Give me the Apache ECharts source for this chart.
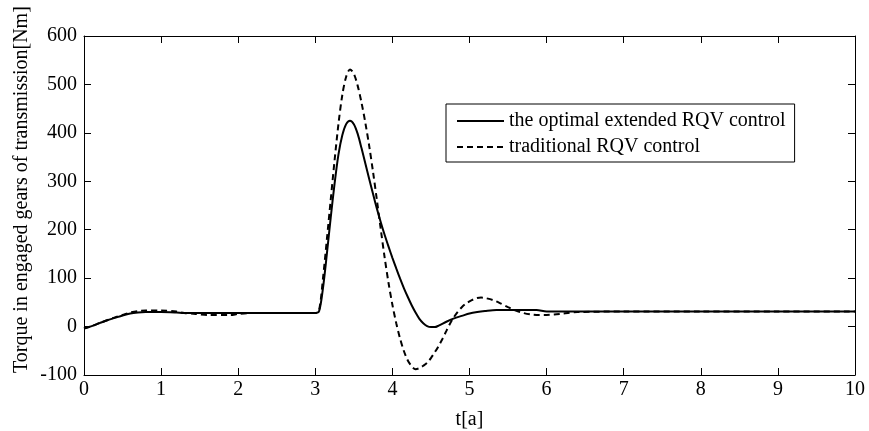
<!DOCTYPE html>
<html>
<head>
<meta charset="utf-8">
<script src="https://cdn.jsdelivr.net/npm/echarts@6/dist/echarts.min.js"></script>
<style>html,body{margin:0;padding:0;background:#fff}#c{width:869px;height:431px}</style>
</head>
<body>
<div id="c"></div>
<script>
var xTicks = [0,1,2,3,4,5,6,7,8,9,10];
var yTicks = [-100,0,100,200,300,400,500,600];
var seriesNames = ['the optimal extended RQV control', 'traditional RQV control'];
var optimalT = [0,0.1,0.2,0.3,0.4,0.5,0.6,0.7,0.8,1.0,1.2,1.3,1.5,2.0,2.5,3.0,
  3.05,3.1,3.15,3.2,3.25,3.3,3.35,3.4,3.45,3.5,3.55,3.6,3.65,3.7,3.75,3.8,3.85,3.9,3.95,
  4.0,4.05,4.1,4.15,4.2,4.25,4.3,4.35,4.4,4.45,4.5,4.55,4.6,4.7,4.8,4.9,5.0,5.1,5.2,5.35,5.6,5.87,6.0,6.5,7,8,9,10];
var optimalV = [-4,1,7,13,18,23,27,29,30,30,29,28,28,28,28,28,
  32,80,150,225,295,355,395,418,425,418,398,368,336,304,273,243,215,189,165,
  142,120,99,79,61,44,29,16,7,1,-1,-1,2,10,17,22,27,30,32,34,34,34,31,31,31,31,31,31];
var tradT = [0,0.1,0.2,0.3,0.4,0.5,0.6,0.7,0.8,1.0,1.2,1.3,1.45,1.6,1.9,2.0,2.2,2.6,3.0,
  3.05,3.1,3.15,3.2,3.25,3.3,3.35,3.4,3.45,3.5,3.55,3.6,3.65,3.7,3.75,3.8,3.85,3.9,3.95,
  4.0,4.05,4.1,4.15,4.2,4.25,4.3,4.35,4.4,4.45,4.5,4.55,4.6,4.65,4.7,4.75,4.8,4.85,4.9,4.95,
  5.0,5.05,5.1,5.15,5.2,5.3,5.4,5.5,5.6,5.7,5.8,5.9,6.0,6.1,6.22,6.4,7,8,9,10];
var tradV = [-4,1,7,13,19,24,29,32,33,33,31,28,26,24,24,26,28,28,28,
  35,100,180,262,343,418,478,516,531,522,497,462,420,372,318,260,200,142,90,
  45,7,-25,-51,-70,-82,-88,-86,-81,-75,-65,-53,-40,-25,-9,7,20,31,40,47,
  52,56,59,60,59,55,48,40,33,28,25,24,24,25,27,30,31,31,31,31];

function pairs(t, v) { return t.map(function (x, i) { return [x, v[i]]; }); }

var FONT = '"Liberation Serif", "Times New Roman", serif';
var chart = echarts.init(document.getElementById('c'), null, {renderer: 'canvas'});
function axisCommon() {
  return {
    axisLine: {show: true, onZero: false, lineStyle: {color: '#000', width: 1}},
    axisTick: {show: true, inside: true, length: 7, lineStyle: {color: '#000', width: 1}},
    splitLine: {show: false}
  };
}
chart.setOption({
  animation: false,
  backgroundColor: '#fff',
  grid: {left: 84, right: 14, top: 36, bottom: 56, containLabel: false, outerBoundsMode: 'none'},
  xAxis: [
    Object.assign({
      type: 'value', min: 0, max: 10, interval: 1, position: 'bottom',
      name: 't[a]', nameLocation: 'middle', nameGap: 35,
      nameTextStyle: {fontFamily: FONT, fontSize: 20, color: '#000'},
      axisLabel: {fontFamily: FONT, fontSize: 20, color: '#000', margin: 5,
        formatter: function (v) { return xTicks.indexOf(v) >= 0 ? String(v) : ''; }}
    }, axisCommon()),
    Object.assign({
      type: 'value', min: 0, max: 10, interval: 1, position: 'top',
      axisLabel: {show: false}
    }, axisCommon())
  ],
  yAxis: [
    Object.assign({
      type: 'value', min: -100, max: 600, interval: 100, position: 'left',
      axisLabel: {fontFamily: FONT, fontSize: 20, color: '#000', margin: 7,
        formatter: function (v) { return yTicks.indexOf(v) >= 0 ? String(v) : ''; }}
    }, axisCommon()),
    Object.assign({
      type: 'value', min: -100, max: 600, interval: 100, position: 'right',
      axisLabel: {show: false}
    }, axisCommon())
  ],
  graphic: [{
    type: 'text', x: 12, y: 373, rotation: Math.PI / 2,
    style: {text: 'Torque in engaged gears of transmission[Nm]', font: '20px ' + FONT, fill: '#000',
      textAlign: 'left', textVerticalAlign: 'top'}
  }],
  legend: {
    show: true, orient: 'vertical', left: 446, top: 104,
    backgroundColor: '#fff', borderColor: '#000', borderWidth: 1, borderRadius: 0,
    padding: [6, 9, 4, 10], itemGap: 4, itemWidth: 47, itemHeight: 14,
    itemStyle: {opacity: 0},
    textStyle: {fontFamily: FONT, fontSize: 20, color: '#000', lineHeight: 22},
    data: seriesNames
  },
  series: [
    {
      name: seriesNames[0], type: 'line', data: pairs(optimalT, optimalV),
      symbol: 'none', smooth: 0.3, z: 3,
      lineStyle: {color: '#000', width: 2, type: 'solid'}, itemStyle: {color: '#000'}
    },
    {
      name: seriesNames[1], type: 'line', data: pairs(tradT, tradV),
      symbol: 'none', smooth: 0.3, z: 2,
      lineStyle: {color: '#000', width: 2, type: [6, 4]}, itemStyle: {color: '#000'}
    }
  ]
});
</script>
</body>
</html>
